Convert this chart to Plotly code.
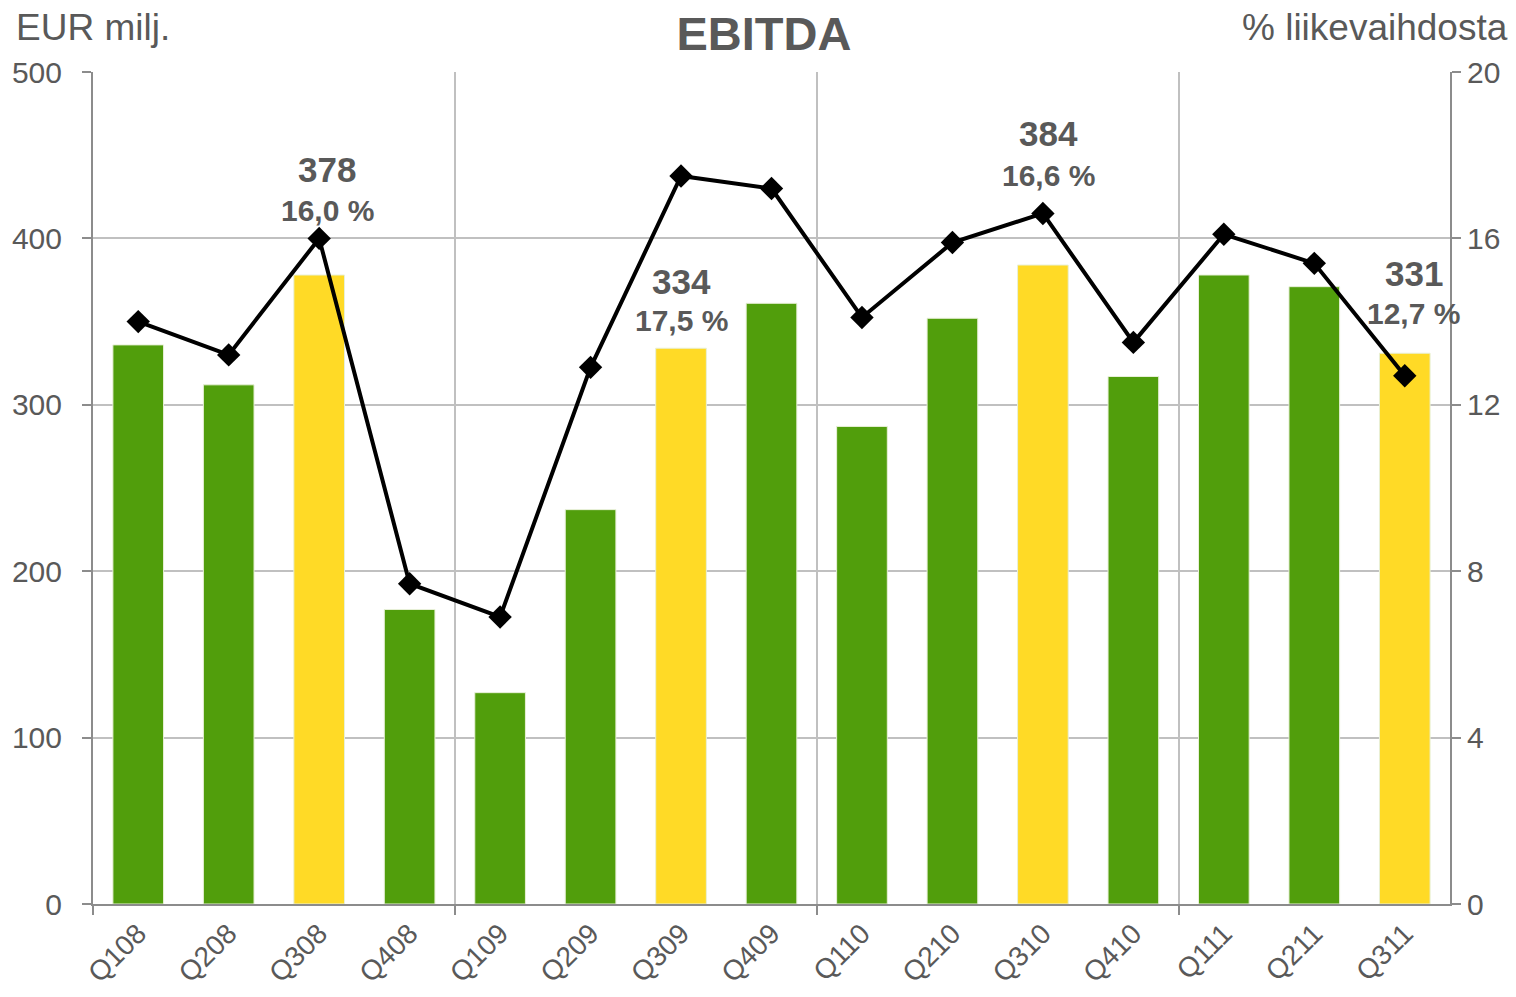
import plotly.graph_objects as go

quarters = ["Q108", "Q208", "Q308", "Q408", "Q109", "Q209", "Q309", "Q409",
            "Q110", "Q210", "Q310", "Q410", "Q111", "Q211", "Q311"]
ebitda = [336, 312, 378, 177, 127, 237, 334, 361, 287, 352, 384, 317, 378, 371, 331]
margin_pct = [14.0, 13.2, 16.0, 7.7, 6.9, 12.9, 17.5, 17.2, 14.1, 15.9, 16.6, 13.5, 16.1, 15.4, 12.7]
highlight = ["Q308", "Q309", "Q310", "Q311"]

GREEN = "#519E0C"
YELLOW = "#FFDA26"
TEXT = "#595959"
AXIS = "#8C8C8C"
GRID = "#C0C0C0"
FONT = "Liberation Sans, Arial, sans-serif"

x = list(range(len(quarters)))
bar_colors = [YELLOW if q in highlight else GREEN for q in quarters]

fig = go.Figure()
fig.add_trace(go.Bar(
    x=x, y=ebitda, marker=dict(color=bar_colors, line=dict(color="#E8F0D8", width=1)),
    width=0.56, showlegend=False, hoverinfo="y",
))
fig.add_trace(go.Scatter(
    x=x, y=margin_pct, yaxis="y2", mode="lines+markers",
    line=dict(color="black", width=4),
    marker=dict(symbol="diamond", size=18, color="black"),
    showlegend=False,
))

# value labels: (quarter, anchor, yshift for number, yshift for pct, xshift)
labels = [
    ("Q308", "line", 69, 28, 8),
    ("Q309", "bar", 67, 28, 0),
    ("Q310", "line", 80, 38, 6),
    ("Q311", "bar", 80, 40, 9),
]
for q, ref, ys_num, ys_pct, xs in labels:
    i = quarters.index(q)
    if ref == "line":
        yref, yv = "y2", margin_pct[i]
    else:
        yref, yv = "y", ebitda[i]
    fig.add_annotation(x=i, y=yv, xref="x", yref=yref, text=f"<b>{ebitda[i]}</b>",
                       showarrow=False, yshift=ys_num, xshift=xs,
                       font=dict(size=35, color=TEXT, family=FONT))
    pct = f"{margin_pct[i]:.1f}".replace(".", ",") + " %"
    fig.add_annotation(x=i, y=yv, xref="x", yref=yref, text=f"<b>{pct}</b>",
                       showarrow=False, yshift=ys_pct, xshift=xs,
                       font=dict(size=30, color=TEXT, family=FONT))

fig.add_annotation(x=-0.058, y=1.054, xref="paper", yref="paper", xanchor="left", yanchor="middle",
                   text="EUR milj.", showarrow=False, font=dict(size=37, color=TEXT, family=FONT))
fig.add_annotation(x=1.0445, y=1.054, xref="paper", yref="paper", xanchor="right", yanchor="middle",
                   text="% liikevaihdosta", showarrow=False, font=dict(size=37, color=TEXT, family=FONT))

# the page body adds an 8px margin, so the figure is sized to fit the window exactly
fig.update_layout(
    width=1500, height=981,
    margin=dict(l=85, r=58, t=64, b=85),
    paper_bgcolor="white", plot_bgcolor="white",
    title=dict(text="<b>EBITDA</b>", x=0.504, xanchor="center", y=0.974, yanchor="middle",
               font=dict(size=47, color=TEXT, family=FONT)),
    font=dict(family=FONT, color=TEXT),
    xaxis=dict(
        range=[-0.5, len(quarters) - 0.5], automargin=False,
        tickmode="array", tickvals=x, ticktext=quarters, tickangle=-45,
        ticks="", showgrid=False, showline=True, linecolor=AXIS, linewidth=2,
        tickfont=dict(size=28, color=TEXT, family=FONT),
        zeroline=False,
        minor=dict(tickmode="array", tickvals=[-0.5, 3.5, 7.5, 11.5], ticks="outside",
                   ticklen=9, tickcolor=AXIS, tickwidth=2,
                   showgrid=True, gridcolor=GRID, gridwidth=2),
    ),
    yaxis=dict(
        range=[0, 500], dtick=100, ticks="outside", ticklen=9, tickcolor=AXIS, tickwidth=2,
        showgrid=True, gridcolor=GRID, gridwidth=2, automargin=False,
        showline=True, linecolor=AXIS, linewidth=2, zeroline=False,
        ticklabelstandoff=14,
        tickfont=dict(size=30, color=TEXT, family=FONT),
    ),
    yaxis2=dict(
        range=[0, 20], dtick=4, overlaying="y", side="right", automargin=False,
        ticks="outside", ticklen=9, tickcolor=AXIS, tickwidth=2,
        showgrid=False, showline=True, linecolor=AXIS, linewidth=2, zeroline=False,
        tickfont=dict(size=30, color=TEXT, family=FONT),
    ),
)

fig.write_html("out.html")
